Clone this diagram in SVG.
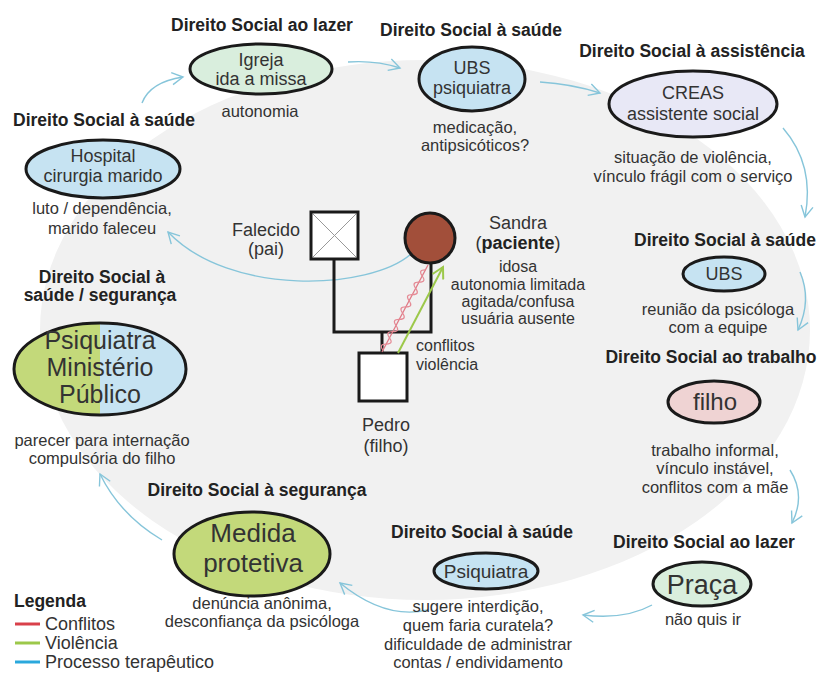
<svg xmlns="http://www.w3.org/2000/svg" width="819" height="673" viewBox="0 0 819 673">
<defs>
<style>
text{font-family:"Liberation Sans",Arial,sans-serif;text-anchor:middle;fill:#333}
.t{font-weight:bold;font-size:17.5px;fill:#222}
.d{font-size:16.5px}
.n{font-size:18px}
.node ellipse.o{stroke:#1a1a1a;stroke-width:3}
.conn path{fill:none;stroke:#86c5da;stroke-width:1.4;marker-end:url(#ah)}
.gen{fill:none;stroke:#1a1a1a;stroke-width:3}
</style>
<marker id="ah" viewBox="0 0 14 14" refX="12" refY="7" markerWidth="14" markerHeight="14" markerUnits="userSpaceOnUse" orient="auto">
<path d="M1,1 L12,7 L1,13" fill="none" stroke="#86c5da" stroke-width="1.4"/>
</marker>
<marker id="ahg" viewBox="0 0 14 14" refX="12" refY="7" markerWidth="14" markerHeight="14" markerUnits="userSpaceOnUse" orient="auto">
<path d="M1,1 L12,7 L1,13" fill="none" stroke="#9cc84a" stroke-width="2"/>
</marker>
<clipPath id="cl"><ellipse cx="100" cy="369" rx="86" ry="46"/></clipPath>
</defs>
<rect width="819" height="673" fill="#ffffff"/>
<ellipse cx="425" cy="330" rx="385" ry="270" fill="#f1f1f1"/>

<g class="conn">
<path d="M142,103 Q150,82 183,77"/>
<path d="M348,62 Q375,60 400,68"/>
<path d="M540,82 Q572,84 600,93"/>
<path d="M783,128 Q815,165 805,217"/>
<path d="M800,272 Q812,300 798,330"/>
<path d="M790,470 Q806,495 792,523"/>
<path d="M652,605 Q625,620 583,615"/>
<path d="M428,610 Q385,620 340,583"/>
<path d="M162,540 Q120,515 100,474"/>
<path d="M411,254 C370,290 230,297 168,232"/>
</g>

<g id="genogram">
<polyline class="gen" points="334,260 334,332 431,332 431,263"/>
<line class="gen" x1="382" y1="332" x2="382" y2="353"/>
<g id="falecido">
<rect x="311" y="212" width="47" height="47" fill="#fff" stroke="#1a1a1a" stroke-width="3"/>
<path d="M313,214 L356,257 M356,214 L313,257" stroke="#999" stroke-width="1"/>
<text class="n" x="266" y="236">Falecido</text>
<text class="n" x="266" y="255">(pai)</text>
</g>
<g id="sandra">
<circle cx="430" cy="238" r="25" fill="#a24f3a" stroke="#1a1a1a" stroke-width="3"/>
<text class="n" x="518" y="229">Sandra</text>
<text class="n" x="518" y="249">(<tspan font-weight="bold" fill="#222">paciente</tspan>)</text>
<text style="font-size:16px" x="518" y="272">idosa</text>
<text style="font-size:16px" x="518" y="290">autonomia limitada</text>
<text style="font-size:16px" x="518" y="307">agitada/confusa</text>
<text style="font-size:16px" x="518" y="324">usuária ausente</text>
</g>
<g id="pedro">
<rect x="359" y="353" width="48" height="48" fill="#fff" stroke="#1a1a1a" stroke-width="3"/>
<text class="n" x="386" y="431">Pedro</text>
<text class="n" x="386" y="452">(filho)</text>
</g>
<g id="relations">
<line x1="382" y1="352" x2="428" y2="265" stroke="#e07a86" stroke-width="1.3"/>
<path transform="translate(382,352) rotate(-62.1)" d="M2,0 q3.5,-7 7,0 t7,0 t7,0 t7,0 t7,0 t7,0 t7,0 t7,0 t7,0 t7,0 t7,0 t7,0 t7,0" fill="none" stroke="#e58a95" stroke-width="1.2"/>
<line x1="398" y1="353" x2="443" y2="267" stroke="#9cc84a" stroke-width="2" marker-end="url(#ahg)"/>
<text style="font-size:16px;text-anchor:start" x="416" y="351">conflitos</text>
<text style="font-size:16px;text-anchor:start" x="416" y="370">violência</text>
</g>
</g>

<g id="n-igreja" class="node">
<text class="t" x="262" y="31">Direito Social ao lazer</text>
<ellipse class="o" cx="261" cy="69" rx="71" ry="25" fill="#d9eedd"/>
<text class="n" x="261" y="66">Igreja</text>
<text class="n" x="261" y="85">ida a missa</text>
<text class="d" x="260" y="117">autonomia</text>
</g>

<g id="n-ubs1" class="node">
<text class="t" x="471" y="36">Direito Social à saúde</text>
<ellipse class="o" cx="472" cy="79" rx="53" ry="32" fill="#c6e3f2"/>
<text class="n" x="472" y="74">UBS</text>
<text class="n" x="472" y="94">psiquiatra</text>
<text class="d" x="475" y="133">medicação,</text>
<text class="d" x="475" y="151">antipsicóticos?</text>
</g>

<g id="n-creas" class="node">
<text class="t" x="692" y="57">Direito Social à assistência</text>
<ellipse class="o" cx="693" cy="104" rx="84" ry="33" fill="#e8e8f6"/>
<text class="n" x="693" y="99">CREAS</text>
<text class="n" x="693" y="120">assistente social</text>
<text class="d" x="693" y="163">situação de violência,</text>
<text class="d" x="693" y="182">vínculo frágil com o serviço</text>
</g>

<g id="n-ubs2" class="node">
<text class="t" x="725" y="246">Direito Social à saúde</text>
<ellipse class="o" cx="724" cy="274" rx="41" ry="17" fill="#c6e3f2"/>
<text class="n" x="724" y="280">UBS</text>
<text class="d" x="718" y="315">reunião da psicóloga</text>
<text class="d" x="718" y="333">com a equipe</text>
</g>

<g id="n-filho" class="node">
<text class="t" x="711" y="363">Direito Social ao trabalho</text>
<ellipse class="o" cx="714" cy="402" rx="46" ry="21" fill="#efd3d3"/>
<text style="font-size:24px" x="715" y="410">filho</text>
<text class="d" x="715" y="456">trabalho informal,</text>
<text class="d" x="715" y="474">vínculo instável,</text>
<text class="d" x="715" y="493">conflitos com a mãe</text>
</g>

<g id="n-praca" class="node">
<text class="t" x="704" y="548">Direito Social ao lazer</text>
<ellipse class="o" cx="702" cy="584" rx="49" ry="22" fill="#d9eedd"/>
<text style="font-size:27px" x="702" y="594">Praça</text>
<text class="d" x="703" y="625">não quis ir</text>
</g>

<g id="n-psiq" class="node">
<text class="t" x="482" y="538">Direito Social à saúde</text>
<ellipse class="o" cx="486" cy="571" rx="52" ry="18" fill="#c6e3f2"/>
<text style="font-size:19px" x="486" y="578">Psiquiatra</text>
<text class="d" x="478" y="612">sugere interdição,</text>
<text class="d" x="478" y="631">quem faria curatela?</text>
<text class="d" x="478" y="650">dificuldade de administrar</text>
<text class="d" x="478" y="668">contas / endividamento</text>
</g>

<g id="n-medida" class="node">
<text class="t" x="257" y="496">Direito Social à segurança</text>
<ellipse class="o" cx="252" cy="554" rx="78" ry="42" fill="#c3d97a"/>
<text style="font-size:26px" x="253" y="542">Medida</text>
<text style="font-size:26px" x="253" y="572">protetiva</text>
<text class="d" x="262" y="609">denúncia anônima,</text>
<text class="d" x="262" y="627">desconfiança da psicóloga</text>
</g>

<g id="n-mp" class="node">
<text class="t" x="102" y="283">Direito Social à</text>
<text class="t" x="100" y="301">saúde / segurança</text>
<g clip-path="url(#cl)">
<rect x="10" y="320" width="90" height="100" fill="#c3d97a"/>
<rect x="100" y="320" width="90" height="100" fill="#c6e3f2"/>
</g>
<ellipse class="o" cx="100" cy="369" rx="86" ry="46" fill="none"/>
<text style="font-size:25px" x="100" y="349">Psiquiatra</text>
<text style="font-size:25px" x="100" y="376">Ministério</text>
<text style="font-size:25px" x="100" y="403">Público</text>
<text class="d" x="102" y="446">parecer para internação</text>
<text class="d" x="102" y="464">compulsória do filho</text>
</g>

<g id="n-hospital" class="node">
<text class="t" x="104" y="126">Direito Social à saúde</text>
<ellipse class="o" cx="103" cy="169" rx="77" ry="29" fill="#c6e3f2"/>
<text class="n" x="103" y="162">Hospital</text>
<text class="n" x="103" y="182">cirurgia marido</text>
<text class="d" x="102" y="214">luto / dependência,</text>
<text class="d" x="102" y="234">marido faleceu</text>
</g>

<g id="legend">
<text class="t" x="14" y="607" style="text-anchor:start">Legenda</text>
<line x1="15" y1="624" x2="40" y2="624" stroke="#d9404a" stroke-width="3"/>
<line x1="15" y1="643" x2="40" y2="643" stroke="#9cc84a" stroke-width="3"/>
<line x1="15" y1="662" x2="40" y2="662" stroke="#2aa8dc" stroke-width="3"/>
<text style="font-size:18px;text-anchor:start" x="45" y="630">Conflitos</text>
<text style="font-size:18px;text-anchor:start" x="45" y="649">Violência</text>
<text style="font-size:18px;text-anchor:start" x="45" y="668">Processo terapêutico</text>
</g>
</svg>
